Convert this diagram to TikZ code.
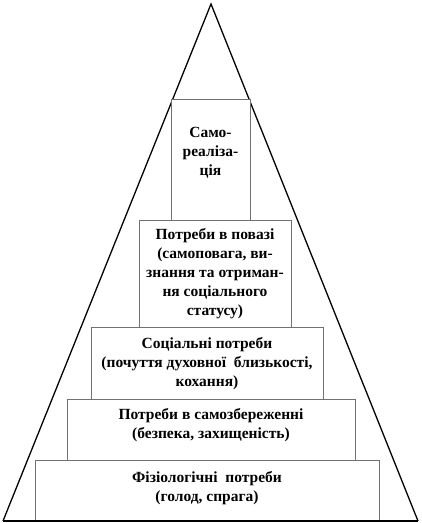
\documentclass[tikz,border=0pt]{standalone}
\usepackage{fontspec}
\setmainfont{Liberation Serif}[BoldFont={Liberation Serif Bold}]
\usetikzlibrary{positioning}
\definecolor{boxline}{HTML}{707070}

\begin{document}
\begin{tikzpicture}[x=1pt, y=1pt,
		rivenbox/.style={draw=boxline, line width=0.9pt, fill=white, inner sep=0pt,
			align=center, anchor=south, font=\fontsize{15.5}{19}\selectfont\bfseries}]
			\useasboundingbox (0,0) rectangle (422,523);

			% --- Піраміда ---
			\coordinate (apex)  at (211,519);
			\coordinate (baseL) at (3,2);
			\coordinate (baseR) at (418,2);
			\draw[black, line width=1.3pt, line join=miter] (baseL) -- (apex) -- (baseR);

			% --- Рівні потреб ---
			\node[rivenbox, minimum width=344, minimum height=60] (fiziol) at (207,2)
			{Фізіологічні~ потреби\\(голод, спрага)\\[-10pt]};
			\node[rivenbox, minimum width=288, minimum height=61] (bezpeka) at (211,62)
			{Потреби в самозбереженні\\(безпека, захищеність)\\[-6pt]};
			\node[rivenbox, minimum width=232, minimum height=72] (sotsial) at (207,123)
			{Соціальні потреби\\(почуття духовної~ близькості,\\кохання)};
			\node[rivenbox, minimum width=152, minimum height=107] (povaha) at (215,195)
			{Потреби в повазі\\(самоповага, ви-\\знання та отриман-\\ня соціального\\статусу)};
			\node[rivenbox, minimum width=79, minimum height=121] (samoreal) at (210.5,302)
			{Само-\\реаліза-\\ція\\[-2pt]};

			% Основа піраміди
			\draw[black, line width=1.3pt] (baseL) -- (baseR);
		\end{tikzpicture}
\end{document}
